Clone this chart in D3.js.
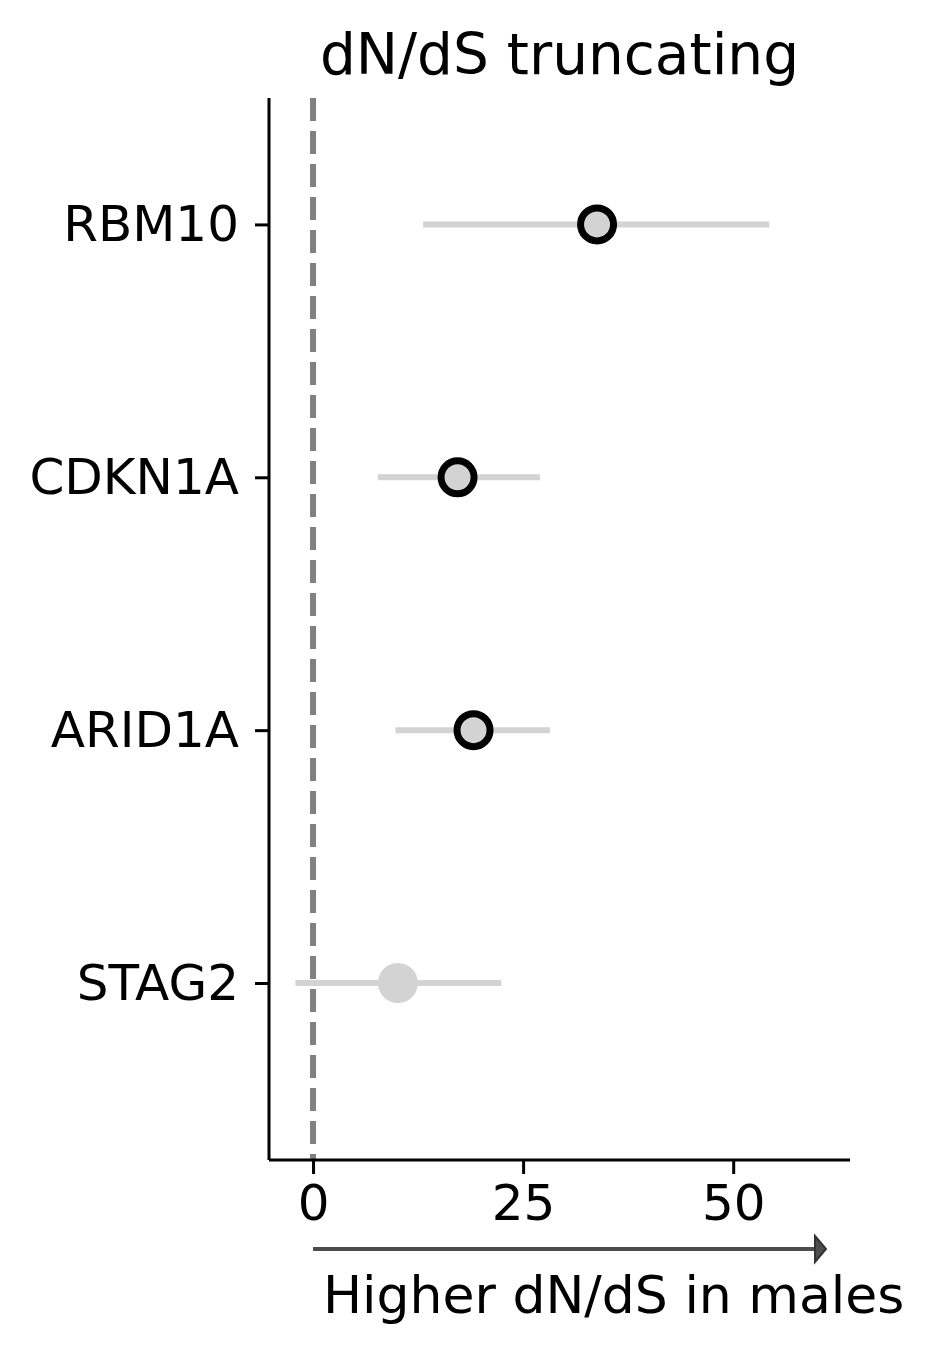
<!DOCTYPE html>
<html>
<head>
<meta charset="utf-8">
<script src="https://cdn.jsdelivr.net/npm/d3@7"></script>
<style>
  html, body { margin: 0; padding: 0; background: #fff; }
  svg { display: block; font-family: "DejaVu Sans", sans-serif; }
</style>
</head>
<body>
<svg id="chart" width="932" height="1353"></svg>
<script>
const genes = ["RBM10", "CDKN1A", "ARID1A", "STAG2"];
const estimate = [33.8, 17.2, 19.1, 10.1];
const ciLow = [13.1, 7.7, 9.8, -2.1];
const ciHigh = [54.3, 27.0, 28.2, 22.4];
const significant = [true, true, true, false];
const xTicks = [0, 25, 50];
const titleText = "dN/dS truncating";
const arrowLabel = "Higher dN/dS in males";

(function () {
const svg = d3.select("#chart");
const pLeft = 269, pRight = 850, pTop = 98, pBottom = 1160;

const x = d3.scaleLinear().domain([-5.24, 63.9]).range([pLeft, pRight]);
const y = d3.scaleLinear().domain([-0.5, 3.7]).range([pTop, pBottom]);

// reference dashed line at 0
svg.append("line")
  .attr("x1", x(0)).attr("x2", x(0))
  .attr("y1", pTop).attr("y2", pBottom)
  .attr("stroke", "#808080").attr("stroke-width", 6)
  .attr("stroke-dasharray", "23,10");

const rows = genes.map((g, i) => ({g, i, est: estimate[i], lo: ciLow[i], hi: ciHigh[i], sig: significant[i]}));

// CI lines
svg.selectAll(".ci").data(rows).enter().append("line")
  .attr("x1", d => x(d.lo)).attr("x2", d => x(d.hi))
  .attr("y1", d => y(d.i)).attr("y2", d => y(d.i))
  .attr("stroke", "#d3d3d3").attr("stroke-width", 6);

// points
svg.selectAll(".pt").data(rows).enter().append("circle")
  .attr("cx", d => x(d.est)).attr("cy", d => y(d.i))
  .attr("r", d => d.sig ? 16.5 : 20)
  .attr("fill", "#d3d3d3")
  .attr("stroke", d => d.sig ? "#000" : "none")
  .attr("stroke-width", 7);

// axes
const xAxis = d3.axisBottom(x).tickValues(xTicks).tickSize(14).tickPadding(10).tickFormat(d3.format("d"));
const gx = svg.append("g").attr("transform", `translate(0,${pBottom})`).call(xAxis);
gx.select(".domain").attr("d", `M${pLeft},0H${pRight}`).attr("stroke-width", 3);
gx.selectAll(".tick line").attr("stroke-width", 3);
gx.selectAll(".tick text").attr("font-size", 50).attr("fill", "#000").attr("font-family", "DejaVu Sans").attr("dy", "0.71em");

const yAxis = d3.axisLeft(y).tickValues(genes.map((g, i) => i)).tickFormat(i => genes[i]).tickSize(14).tickPadding(16);
const gy = svg.append("g").attr("transform", `translate(${pLeft},0)`).call(yAxis);
gy.select(".domain").attr("d", `M0,${pTop}V${pBottom}`).attr("stroke-width", 3);
gy.selectAll(".tick line").attr("stroke-width", 3);
gy.selectAll(".tick text").attr("font-size", 50).attr("fill", "#000").attr("font-family", "DejaVu Sans");

// title
svg.append("text")
  .attr("x", (pLeft + pRight) / 2).attr("y", 74)
  .attr("text-anchor", "middle")
  .attr("font-size", 56.5).attr("fill", "#000")
  .text(titleText);

// arrow
const ay = 1249;
svg.append("line")
  .attr("x1", x(0)).attr("x2", 816)
  .attr("y1", ay).attr("y2", ay)
  .attr("stroke", "#4d4d4d").attr("stroke-width", 4);
svg.append("path")
  .attr("d", `M815,${ay - 13}L826,${ay}L815,${ay + 13}Z`)
  .attr("fill", "#4d4d4d").attr("stroke", "#333").attr("stroke-width", 2);

svg.append("text")
  .attr("x", 323).attr("y", 1313)
  .attr("font-size", 52).attr("fill", "#000")
  .text(arrowLabel);
})();
</script>
</body>
</html>
